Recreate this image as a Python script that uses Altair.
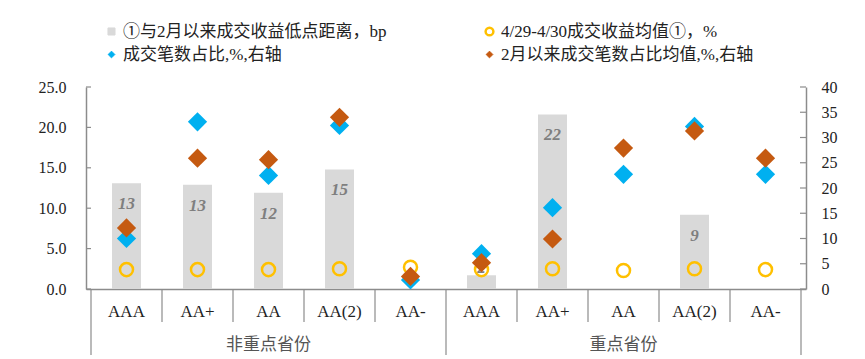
import altair as alt
import pandas as pd

cats = ["AAA", "AA+", "AA", "AA(2)", "AA-", "AAA", "AA+", "AA", "AA(2)", "AA-"]
groups = ["非重点省份", "重点省份"]
bar_vals = [13.1, 12.9, 11.9, 14.8, 0, 1.7, 21.6, 0, 9.2, 0]
bar_labels = ["13", "13", "12", "15", "", "2", "22", "", "9", ""]
circle_vals = [2.4, 2.4, 2.4, 2.5, 2.7, 2.4, 2.5, 2.3, 2.5, 2.4]
cyan_vals = [10.0, 33.1, 22.5, 32.4, 1.8, 7.0, 16.1, 22.7, 32.2, 22.7]
orange_vals = [12.1, 25.9, 25.6, 34.0, 2.5, 5.2, 9.9, 27.9, 31.3, 25.9]
left_ticks = [0, 5, 10, 15, 20, 25]
right_ticks = [0, 5, 10, 15, 20, 25, 30, 35, 40]

names = ["①与2月以来成交收益低点距离，bp", "4/29-4/30成交收益均值①，%",
         "成交笔数占比,%,右轴", "2月以来成交笔数占比均值,%,右轴"]

FONT = "Liberation Serif, Noto Sans CJK SC"
W, H = 720, 202
AX = "#8c8c8c"

df = pd.DataFrame({
    "x": [i + 0.5 for i in range(len(cats))],
    "cat": cats,
    "bar": bar_vals,
    "lab": bar_labels,
    "circ": circle_vals,
    "cyan": cyan_vals,
    "orange": orange_vals,
    "n_bar": names[0], "n_circ": names[1], "n_cyan": names[2], "n_orange": names[3],
})

xs = alt.X("x:Q", scale=alt.Scale(domain=[0, 10]),
           axis=alt.Axis(labels=False, ticks=False, grid=False, title=None,
                         domainColor=AX, domainWidth=1.5))
yl = alt.Scale(domain=[0, 25])
yr = alt.Scale(domain=[0, 40])


def leg(x, y, stype, size, fill=None, stroke=None, sw=1):
    d = dict(orient="none", legendX=x, legendY=y, title=None, symbolType=stype,
             symbolSize=size, labelFont=FONT, labelFontSize=17, labelColor="#222",
             symbolStrokeWidth=sw, labelLimit=500, labelOffset=3, padding=0)
    if fill is not None:
        d["symbolFillColor"] = fill
    if stroke is not None:
        d["symbolStrokeColor"] = stroke
    return alt.Legend(**d)


base = alt.Chart(df)

bars = base.mark_bar(size=29).encode(
    x=xs,
    y=alt.Y("bar:Q", scale=yl,
            axis=alt.Axis(orient="left", values=left_ticks, format=".1f",
                          grid=False, title=None, ticks=False,
                          domainColor=AX, domainWidth=1.5, labelFont=FONT,
                          labelFontSize=16, labelColor="#222", labelPadding=20)),
    color=alt.Color("n_bar:N", scale=alt.Scale(range=["#d9d9d9"]),
                    legend=leg(17, -64, "square", 50, fill="#d9d9d9", stroke="#d9d9d9")),
)

labels = base.transform_filter("datum.lab != ''").transform_calculate(
    ly="datum.bar > 4 ? datum.bar - 2.6 : datum.bar + 0.9"
).mark_text(font="Liberation Serif", fontSize=17, fontStyle="italic", fontWeight="bold",
            color="#7f7f7f").encode(
    x=xs,
    y=alt.Y("ly:Q", scale=yl, axis=None),
    text="lab:N",
)

circles = base.mark_point(shape="circle", filled=False, size=170, strokeWidth=2.5,
                          opacity=1).encode(
    x=xs,
    y=alt.Y("circ:Q", scale=yl, axis=None),
    color=alt.Color("n_circ:N", scale=alt.Scale(range=["#ffc000"]),
                    legend=leg(395, -64, "circle", 60, fill="white", stroke="#ffc000", sw=2.5)),
)

cyan = base.mark_point(shape="diamond", filled=True, size=370, opacity=1).encode(
    x=xs,
    y=alt.Y("cyan:Q", scale=yr,
            axis=alt.Axis(orient="right", values=right_ticks, grid=False,
                          title=None, ticks=False,
                          domainColor=AX, domainWidth=1.5, labelFont=FONT,
                          labelFontSize=16, labelColor="#222", labelPadding=15)),
    color=alt.Color("n_cyan:N", scale=alt.Scale(range=["#00b0f0"]),
                    legend=leg(17, -41, "diamond", 45, fill="#00b0f0", stroke="#00b0f0")),
)

orange = base.mark_point(shape="diamond", filled=True, size=370, opacity=1).encode(
    x=xs,
    y=alt.Y("orange:Q", scale=yr, axis=None),
    color=alt.Color("n_orange:N", scale=alt.Scale(range=["#c55a11"]),
                    legend=leg(395, -41, "diamond", 45, fill="#c55a11", stroke="#c55a11")),
)

# inward axis ticks
ltick = alt.Chart(pd.DataFrame({"v": left_ticks})).mark_rule(color=AX, strokeWidth=1.2).encode(
    x=alt.value(0), x2=alt.value(5), y=alt.Y("v:Q", scale=yl, axis=None))
rtick = alt.Chart(pd.DataFrame({"v": right_ticks})).mark_rule(color=AX, strokeWidth=1.2).encode(
    x=alt.value(W - 6), x2=alt.value(W), y=alt.Y("v:Q", scale=yr, axis=None))

cat_text = base.mark_text(font=FONT, fontSize=17, color="#222").encode(
    x=xs, y=alt.value(H + 23), text="cat:N")

gdf = pd.DataFrame({"x": [2.5, 7.5], "g": groups})
grp_text = alt.Chart(gdf).mark_text(font=FONT, fontSize=17, color="#555").encode(
    x=xs, y=alt.value(H + 56), text="g:N")

short_sep = pd.DataFrame({"x": [1, 2, 3, 4, 6, 7, 8, 9]})
long_sep = pd.DataFrame({"x": [0, 5, 10]})
sep1 = alt.Chart(short_sep).mark_rule(color=AX, strokeWidth=1.2).encode(
    x=xs, y=alt.value(H), y2=alt.value(H + 33))
sep2 = alt.Chart(long_sep).mark_rule(color=AX, strokeWidth=1.2).encode(
    x=xs, y=alt.value(H), y2=alt.value(H + 66))

chart = alt.layer(bars, labels, circles, cyan, orange, ltick, rtick,
                  cat_text, grp_text, sep1, sep2).resolve_scale(
    y="independent", color="independent"
).properties(
    width=W, height=H,
    autosize=alt.AutoSizeParams(type="none"),
    padding={"left": 78, "top": 79, "right": 51, "bottom": 70},
).configure_view(stroke=None)

chart.save("out.html", embed_options={"renderer": "svg", "actions": False})
